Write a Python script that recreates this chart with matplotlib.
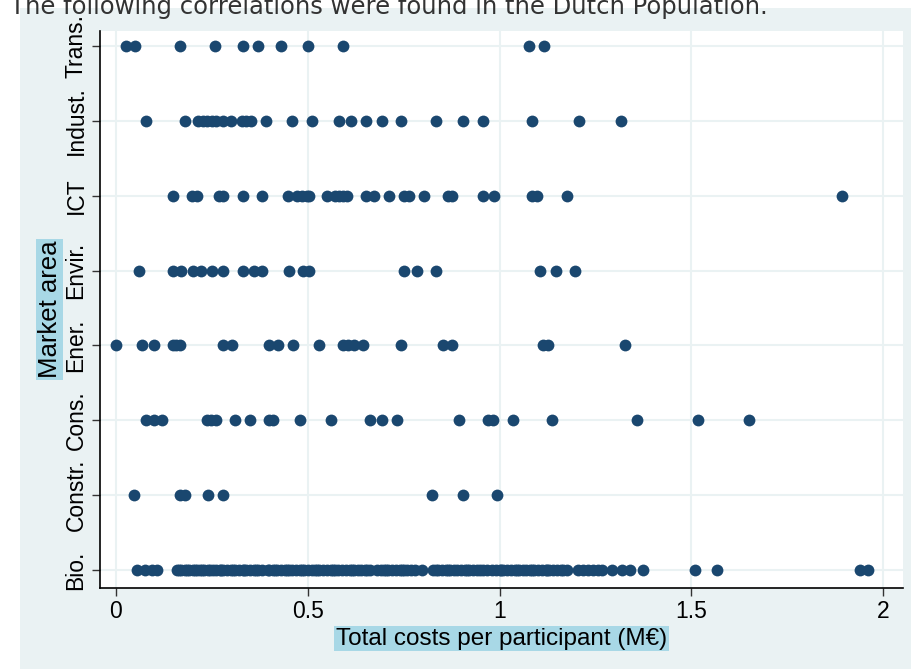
import matplotlib
matplotlib.use("Agg")
import matplotlib.pyplot as plt
from matplotlib.patches import Rectangle

# market areas, bottom to top
areas = ["Bio.", "Constr.", "Cons.", "Ener.", "Envir.", "ICT", "Indust.", "Trans."]

# total costs per participant (M€) for each market area
bio = [0.055, 0.076, 0.094, 0.107,
       0.16, 0.165, 0.17, 0.18, 0.185, 0.19, 0.2, 0.205, 0.21, 0.22, 0.225, 0.23, 0.24, 0.245,
       0.253, 0.26, 0.27, 0.275, 0.28, 0.29, 0.30, 0.305, 0.31, 0.32, 0.33, 0.335, 0.34, 0.35,
       0.36, 0.365, 0.37, 0.38,
       0.396, 0.40, 0.41, 0.415, 0.42, 0.43, 0.44, 0.445, 0.45, 0.46, 0.47, 0.48, 0.485, 0.49,
       0.50, 0.51, 0.52, 0.525, 0.53, 0.54, 0.55, 0.56, 0.565, 0.57, 0.58, 0.59, 0.60, 0.61,
       0.615, 0.62, 0.63, 0.64, 0.65, 0.655, 0.662,
       0.68, 0.69, 0.70, 0.705, 0.71, 0.72, 0.73, 0.74, 0.745, 0.75, 0.76, 0.77, 0.78, 0.797,
       0.827, 0.835, 0.84, 0.85, 0.86, 0.865, 0.87, 0.88, 0.89, 0.90, 0.91, 0.915, 0.92, 0.93,
       0.94, 0.95, 0.957, 0.967,
       0.98, 0.99, 1.0, 1.005, 1.01, 1.02, 1.03, 1.04, 1.045, 1.05, 1.06, 1.07, 1.08, 1.085,
       1.09, 1.10, 1.11, 1.12, 1.125, 1.13, 1.14, 1.15, 1.16, 1.165, 1.175,
       1.205, 1.218, 1.231, 1.244, 1.257, 1.267, 1.293, 1.319, 1.34, 1.375, 1.51, 1.568,
       1.94, 1.962]
constr = [0.048, 0.167, 0.180, 0.239, 0.280, 0.823, 0.906, 0.993]
cons = [0.078, 0.099, 0.120, 0.237, 0.248, 0.260, 0.310, 0.350, 0.400, 0.410, 0.481, 0.561,
        0.663, 0.693, 0.733, 0.894, 0.971, 0.984, 1.034, 1.136, 1.358, 1.518, 1.650]
ener = [0.0, 0.068, 0.098, 0.148, 0.156, 0.167, 0.280, 0.302, 0.400, 0.422, 0.461, 0.530,
        0.591, 0.606, 0.621, 0.643, 0.743, 0.853, 0.875, 1.114, 1.126, 1.327]
envir = [0.059, 0.148, 0.169, 0.200, 0.221, 0.250, 0.280, 0.330, 0.359, 0.381, 0.451, 0.488,
         0.502, 0.752, 0.784, 0.834, 1.106, 1.147, 1.197]
ict = [0.149, 0.197, 0.210, 0.269, 0.280, 0.330, 0.381, 0.449, 0.471, 0.484, 0.497, 0.504,
       0.551, 0.571, 0.582, 0.593, 0.603, 0.651, 0.674, 0.713, 0.751, 0.765, 0.803, 0.865,
       0.875, 0.956, 0.986, 1.084, 1.097, 1.177, 1.892]
indust = [0.078, 0.180, 0.214, 0.227, 0.238, 0.250, 0.261, 0.279, 0.300, 0.329, 0.339, 0.352,
          0.391, 0.459, 0.511, 0.581, 0.613, 0.652, 0.694, 0.743, 0.834, 0.905, 0.957, 1.085,
          1.207, 1.317]
trans = [0.026, 0.049, 0.168, 0.259, 0.330, 0.370, 0.429, 0.501, 0.593, 1.076, 1.116]

costs = [bio, constr, cons, ener, envir, ict, indust, trans]
xticks = [0, 0.5, 1, 1.5, 2]
xticklabels = ["0", "0.5", "1", "1.5", "2"]

panel = "#eaf2f3"
dot = "#1a476f"
hl = "#a8d8e6"

fig = plt.figure(figsize=(9.12, 6.69), dpi=100)
fig.patches.append(Rectangle((20 / 912, 0), 1, 1 - 8 / 669, transform=fig.transFigure,
                             facecolor=panel, edgecolor="none", zorder=-10))
fig.text(10 / 912, 1 - 14 / 669, "The following correlations were found in the Dutch Population.",
         fontsize=17.5, color="#333333", va="baseline", family="DejaVu Sans", zorder=-5)

ax = fig.add_axes([100 / 912, 1 - 588 / 669, 803 / 912, 557 / 669])
ax.set_facecolor("white")

for i, xs in enumerate(costs):
    ax.plot(xs, [i] * len(xs), "o", color=dot, markersize=8.5, markeredgewidth=0, zorder=3)

ax.set_xlim(-0.0417, 2.052)
ax.set_ylim(-0.24, 7.2)
ax.set_xticks(xticks)
ax.set_xticklabels(xticklabels)
ax.set_yticks(range(len(areas)))
ax.set_yticklabels(areas, rotation=90, va="center")

ax.grid(True, color=panel, linewidth=1.5, zorder=1)
ax.set_axisbelow(True)
for s in ["top", "right"]:
    ax.spines[s].set_visible(False)
for s in ["left", "bottom"]:
    ax.spines[s].set_color("black")
    ax.spines[s].set_linewidth(1.2)
ax.tick_params(axis="both", length=6, width=1.0, color="#333333", labelsize=16.5,
               labelfontfamily="Liberation Sans")
ax.tick_params(axis="y", pad=3)
ax.tick_params(axis="x", pad=3)

ax.set_xlabel("Total costs per participant (M€)", fontsize=17.5, family="Liberation Sans",
              labelpad=3, bbox=dict(facecolor=hl, edgecolor="none", pad=1))
ax.set_ylabel("Market area", fontsize=18.5, family="Liberation Sans", labelpad=2,
              bbox=dict(facecolor=hl, edgecolor="none", pad=1))

fig.savefig("out.png", dpi=100, facecolor="white")
